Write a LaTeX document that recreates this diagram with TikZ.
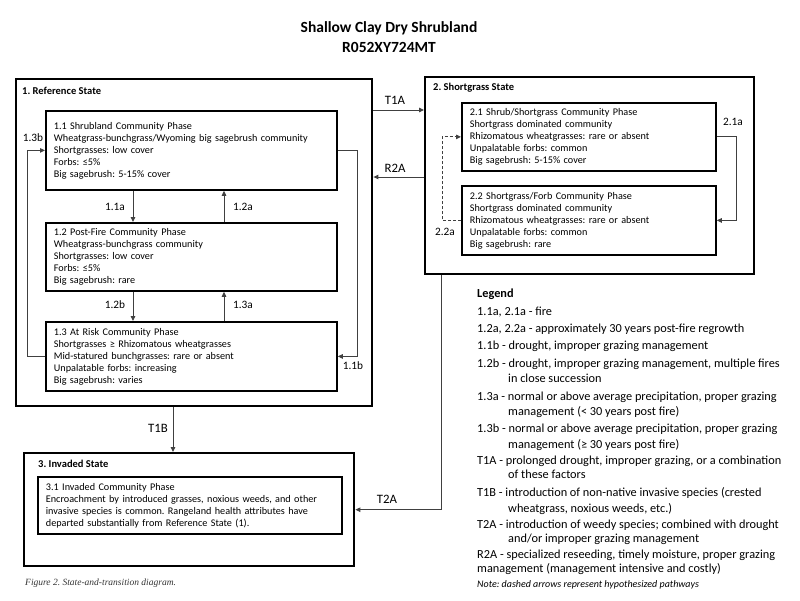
\documentclass[tikz,border=0pt]{standalone}
\usepackage{fontspec}
\setmainfont{Carlito}
\newfontfamily\capserif{Liberation Serif}
\usetikzlibrary{arrows.meta}
\frenchspacing

\newcommand\headtxt{\fontsize{15.5}{19}\selectfont\bfseries}
\newcommand\statetxt{\fontsize{10.5}{12}\selectfont\bfseries}
\newcommand\phasetxt{\fontsize{10.2}{12}\selectfont}
\newcommand\lbltxt{\fontsize{11.3}{13}\selectfont}
\newcommand\trantxt{\fontsize{12.8}{15}\selectfont}
\newcommand\lgdtxt{\fontsize{12.3}{15}\selectfont}

\tikzset{
  statebox/.style={draw, line width=2.4pt, anchor=north west, inner sep=0pt},
  statename/.style={anchor=west, inner sep=0pt, font=\statetxt},
  phasebox/.style={draw, line width=1.8pt, anchor=north west, align=left,
    inner xsep=8pt, inner ysep=0pt, font=\phasetxt},
  conn/.style={draw=black!75, line width=0.9pt, -{Triangle[length=5pt,width=4.5pt]}},
  hypo/.style={conn, dash pattern=on 3pt off 2pt},
  phlabel/.style={inner sep=0pt, font=\lbltxt},
  trlabel/.style={inner sep=0pt, font=\trantxt},
  legend/.style={anchor=base west, inner sep=0pt, font=\lgdtxt},
}

\begin{document}
\begin{tikzpicture}[x=1pt, y=-1pt]
    \useasboundingbox (0,0) rectangle (800,600);

    % Title
    \node[font=\headtxt] (title) at (389,28) {Shallow Clay Dry Shrubland};
    \node[font=\headtxt] (code) at (389,47) {R052XY724MT};

    % State boxes
    \node[statebox, minimum width=356pt, minimum height=327pt] (ref) at (15,78) {};
    \node[statebox, minimum width=329pt, minimum height=197pt] (sg) at (424,76) {};
    \node[statebox, minimum width=330pt, minimum height=113pt] (inv) at (23,452) {};

    \node[statename] (refname) at (22,91) {1. Reference State};
    \node[statename] (sgname) at (433,88) {2. Shortgrass State};
    \node[statename] (invname) at (38,464) {3. Invaded State};

    % Community phases
    \node[phasebox, text width=275pt, minimum height=79pt] (p11) at (45,110)
      {1.1 Shrubland Community Phase\\
       Wheatgrass-bunchgrass/Wyoming big sagebrush community\\
       Shortgrasses: low cover\\
       Forbs: ≤5\%\\
       Big sagebrush: 5-15\% cover};
    \node[phasebox, text width=275pt, minimum height=68pt] (p12) at (45,222)
      {1.2 Post-Fire Community Phase\\
       Wheatgrass-bunchgrass community\\
       Shortgrasses: low cover\\
       Forbs: ≤5\%\\
       Big sagebrush: rare};
    \node[phasebox, text width=275pt, minimum height=69pt] (p13) at (45,321)
      {1.3 At Risk Community Phase\\
       Shortgrasses ≥ Rhizomatous wheatgrasses\\
       Mid-statured bunchgrasses: rare or absent\\
       Unpalatable forbs: increasing\\
       Big sagebrush: varies};
    \node[phasebox, text width=238pt, minimum height=68pt] (p21) at (461,102)
      {2.1 Shrub/Shortgrass Community Phase\\
       Shortgrass dominated community\\
       Rhizomatous wheatgrasses: rare or absent\\
       Unpalatable forbs: common\\
       Big sagebrush: 5-15\% cover};
    \node[phasebox, text width=238pt, minimum height=69pt] (p22) at (461,185)
      {2.2 Shortgrass/Forb Community Phase\\
       Shortgrass dominated community\\
       Rhizomatous wheatgrasses: rare or absent\\
       Unpalatable forbs: common\\
       Big sagebrush: rare};
    \node[phasebox, text width=288pt, minimum height=57pt] (p31) at (37,476)
      {3.1 Invaded Community Phase\\
       Encroachment by introduced grasses, noxious weeds, and other\\
       invasive species is common. Rangeland health attributes have\\
       departed substantially from Reference State (1).};

    % Community pathways
    \draw[conn] ([xshift=88pt]p11.south west) -- ([xshift=88pt]p12.north west);
    \draw[conn] ([xshift=179pt]p12.north west) -- ([xshift=179pt]p11.south west);
    \draw[conn] ([xshift=88pt]p12.south west) -- ([xshift=88pt]p13.north west);
    \draw[conn] ([xshift=179pt]p13.north west) -- ([xshift=179pt]p12.south west);
    \draw[conn] (p13.west) -- ++(-18,0) |- (p11.west);
    \draw[conn] (p11.east) -- ++(20,0) |- (p13.east);
    \draw[conn] (p21.east) -- ++(20,0) |- (p22.east);
    \draw[hypo] (p22.west) -- ++(-19,0) |- (p21.west);

    \node[phlabel] (l11a) at (115,207) {1.1a};
    \node[phlabel] (l12a) at (243,207) {1.2a};
    \node[phlabel] (l12b) at (115,305) {1.2b};
    \node[phlabel] (l13a) at (243,305) {1.3a};
    \node[phlabel] (l13b) at (33,138) {1.3b};
    \node[phlabel] (l11b) at (353,366) {1.1b};
    \node[phlabel] (l21a) at (733,122) {2.1a};
    \node[phlabel] (l22a) at (445,232) {2.2a};

    % Transitions
    \coordinate (t1a) at ([yshift=-32pt]ref.north east);
    \coordinate (r2a) at ([yshift=-101pt]sg.north west);
    \coordinate (t1b) at ([xshift=158pt]ref.south west);
    \coordinate (t2a) at ([xshift=17pt]sg.south west);
    \draw[conn] (t1a) -- (t1a -| sg.west);
    \draw[conn] (r2a) -- (r2a -| ref.east);
    \draw[conn] (t1b) -- (t1b |- inv.north);
    \draw[conn] (t2a) |- (inv.east);

    \node[trlabel] (lt1a) at (395,100) {T1A};
    \node[trlabel] (lr2a) at (395,168) {R2A};
    \node[trlabel] (lt1b) at (158,428) {T1B};
    \node[trlabel] (lt2a) at (387,499) {T2A};

    % Legend
    \node[legend] (lg0) at (477,297) {\textbf{Legend}};
    \node[legend] (lg1) at (477,315) {1.1a, 2.1a - fire};
    \node[legend] (lg2) at (477,332) {1.2a, 2.2a - approximately 30 years post-fire regrowth};
    \node[legend] (lg3) at (477,349) {1.1b - drought, improper grazing management};
    \node[legend] (lg4) at (477,367) {1.2b - drought, improper grazing management, multiple fires};
    \node[legend] (lg4b) at (508,382) {in close succession};
    \node[legend] (lg5) at (477,400) {1.3a - normal or above average precipitation, proper grazing};
    \node[legend] (lg5b) at (508,415) {management (< 30 years post fire)};
    \node[legend] (lg6) at (477,432) {1.3b - normal or above average precipitation, proper grazing};
    \node[legend] (lg6b) at (508,448) {management (≥ 30 years post fire)};
    \node[legend] (lg7) at (477,464) {T1A - prolonged drought, improper grazing, or a combination};
    \node[legend] (lg7b) at (508,478) {of these factors};
    \node[legend] (lg8) at (477,496) {T1B - introduction of non-native invasive species (crested};
    \node[legend] (lg8b) at (508,512) {wheatgrass, noxious weeds, etc.)};
    \node[legend] (lg9) at (477,528) {T2A - introduction of weedy species; combined with drought};
    \node[legend] (lg9b) at (508,542) {and/or improper grazing management};
    \node[legend] (lg10) at (477,558) {R2A - specialized reseeding, timely moisture, proper grazing};
    \node[legend] (lg10b) at (477,572) {management (management intensive and costly)};
    \node[legend, font=\fontsize{10}{12}\selectfont\itshape] (note) at (477,587)
      {Note: dashed arrows represent hypothesized pathways};

    % Caption
    \node[anchor=west, inner sep=0pt, text=black!80, font=\capserif\fontsize{9.5}{11}\selectfont\itshape]
      (caption) at (25,583) {Figure 2. State-and-transition diagram.};

\end{tikzpicture}
\end{document}
